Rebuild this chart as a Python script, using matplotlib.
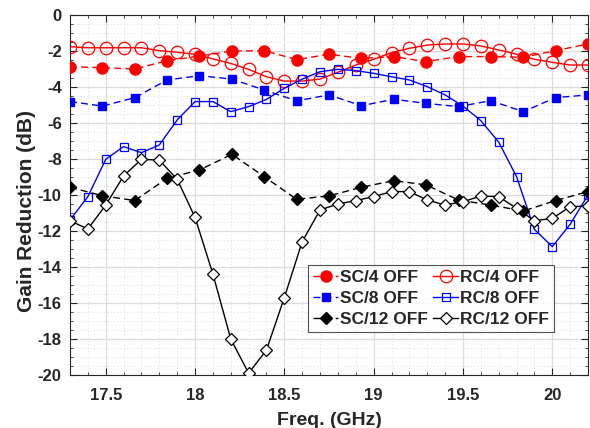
import numpy as np
import matplotlib
matplotlib.use("Agg")
import matplotlib.pyplot as plt
from matplotlib.ticker import MultipleLocator

plt.rcParams["font.family"] = ["Liberation Sans", "DejaVu Sans"]
plt.rcParams["font.weight"] = "bold"
plt.rcParams["axes.unicode_minus"] = False

# =========================
# data
# =========================
# SC series: 17 points, RC series: 30 points (0.1 GHz step)
freq_sc = np.linspace(17.3, 20.2, 17)
freq_rc = np.round(np.arange(17.3, 20.25, 0.1), 2)

sc4 = [-2.87, -2.93, -3.00, -2.54, -2.28, -2.00, -1.98, -2.48, -2.18,
       -2.41, -2.31, -2.59, -2.31, -2.31, -2.35, -1.98, -1.61]
rc4 = [-1.76, -1.82, -1.82, -1.82, -1.82, -1.98, -2.07, -2.18, -2.44, -2.69,
       -3.02, -3.43, -3.67, -3.67, -3.56, -3.18, -2.78, -2.46, -2.09, -1.85,
       -1.67, -1.61, -1.61, -1.72, -1.94, -2.18, -2.46, -2.63, -2.78, -2.78]

sc8 = [-4.81, -5.06, -4.59, -3.61, -3.37, -3.56, -4.17, -4.77, -4.44,
       -5.04, -4.68, -4.91, -5.09, -4.76, -5.37, -4.59, -4.44]
rc8 = [-11.39, -10.09, -8.02, -7.31, -7.65, -7.22, -5.83, -4.81, -4.81, -5.37,
       -5.09, -4.69, -4.07, -3.56, -3.15, -3.02, -3.09, -3.24, -3.43, -3.61,
       -3.98, -4.44, -5.06, -5.87, -7.06, -8.98, -11.91, -12.87, -11.63, -10.00]

sc12 = [-9.57, -10.04, -10.31, -9.07, -8.61, -7.74, -8.98, -10.24, -10.05,
        -9.57, -9.20, -9.44, -10.28, -10.56, -10.89, -10.31, -9.81]
rc12 = [-11.43, -11.89, -10.56, -8.94, -8.02, -8.06, -9.13, -11.24, -14.39, -18.00,
        -19.90, -18.61, -15.70, -12.59, -10.83, -10.50, -10.31, -10.09, -9.81, -9.81,
        -10.28, -10.56, -10.37, -10.06, -10.09, -10.74, -11.43, -11.30, -10.65, -10.61]

xtick_vals = [17.5, 18, 18.5, 19, 19.5, 20]
xtick_labels = ["17.5", "18", "18.5", "19", "19.5", "20"]
ytick_vals = list(range(-20, 1, 2))

# =========================
# plotting
# =========================
fig = plt.figure(figsize=(5.9, 4.28), dpi=100)
ax = fig.add_axes([70 / 590, 1 - 375 / 428, 518 / 590, 360 / 428])

dash = (0, (5, 3))
lw = 1.0

h_sc4, = ax.plot(freq_sc, sc4, color="red", linestyle=dash, lw=lw, marker="o",
                 ms=8, mfc="red", mec="red", label="SC/4 OFF", zorder=3)
h_rc4, = ax.plot(freq_rc, rc4, color="red", linestyle="-", lw=lw, marker="o",
                 ms=9, mfc="none", mec="red", mew=0.9, label="RC/4 OFF", zorder=3)
h_sc8, = ax.plot(freq_sc, sc8, color="blue", linestyle=dash, lw=lw, marker="s",
                 ms=5.5, mfc="blue", mec="blue", label="SC/8 OFF", zorder=3)
h_rc8, = ax.plot(freq_rc, rc8, color="blue", linestyle="-", lw=lw, marker="s",
                 ms=5.5, mfc="none", mec="blue", mew=0.9, label="RC/8 OFF", zorder=3)
h_sc12, = ax.plot(freq_sc, sc12, color="black", linestyle=dash, lw=lw, marker="D",
                  ms=6, mfc="black", mec="black", label="SC/12 OFF", zorder=3)
h_rc12, = ax.plot(freq_rc, rc12, color="black", linestyle="-", lw=lw, marker="D",
                  ms=6, mfc="white", mec="black", mew=0.9, label="RC/12 OFF", zorder=3)

ax.set_xlim(17.3, 20.2)
ax.set_ylim(-20, 0)
ax.set_xticks(xtick_vals)
ax.set_xticklabels(xtick_labels)
ax.set_yticks(ytick_vals)
ax.xaxis.set_minor_locator(MultipleLocator(0.1))
ax.yaxis.set_minor_locator(MultipleLocator(0.5))

ax.grid(True, which="major", color="#dcdcdc", linestyle="-", linewidth=0.9, zorder=0)
ax.grid(True, which="minor", color="#e2e2e2", linestyle=(0, (1, 2)), linewidth=0.8, zorder=0)
ax.set_axisbelow(True)

ax.tick_params(which="both", direction="in", top=True, right=True,
               colors="#262626", labelcolor="#262626")
ax.tick_params(which="major", length=5, width=0.8, labelsize=12)
ax.tick_params(axis="x", which="major", pad=9)
ax.tick_params(axis="y", which="major", pad=6)
ax.tick_params(which="minor", length=2.5, width=0.6)
for sp in ax.spines.values():
    sp.set_color("#262626")
    sp.set_linewidth(0.8)
for lab in ax.get_xticklabels() + ax.get_yticklabels():
    lab.set_fontweight("bold")

ax.set_xlabel("Freq. (GHz)", fontsize=14, fontweight="bold", color="#262626", labelpad=7)
ax.set_ylabel("Gain Reduction (dB)", fontsize=15, fontweight="bold", color="#262626")
ax.yaxis.set_label_coords(-0.066, 0.456)

leg = ax.legend(handles=[h_sc4, h_sc8, h_sc12, h_rc4, h_rc8, h_rc12], ncol=2,
                loc="upper left", bbox_to_anchor=((308 - 70) / 518, (375 - 265) / 360),
                fontsize=12.5, frameon=True, fancybox=False, handlelength=1.45,
                handletextpad=0.1, columnspacing=0.3, labelspacing=0.33,
                borderpad=0.3, borderaxespad=0)
leg.get_frame().set_edgecolor("#262626")
leg.get_frame().set_linewidth(0.8)
for t in leg.get_texts():
    t.set_fontweight("bold")
    t.set_color("#262626")

fig.savefig("out.png", dpi=100)
